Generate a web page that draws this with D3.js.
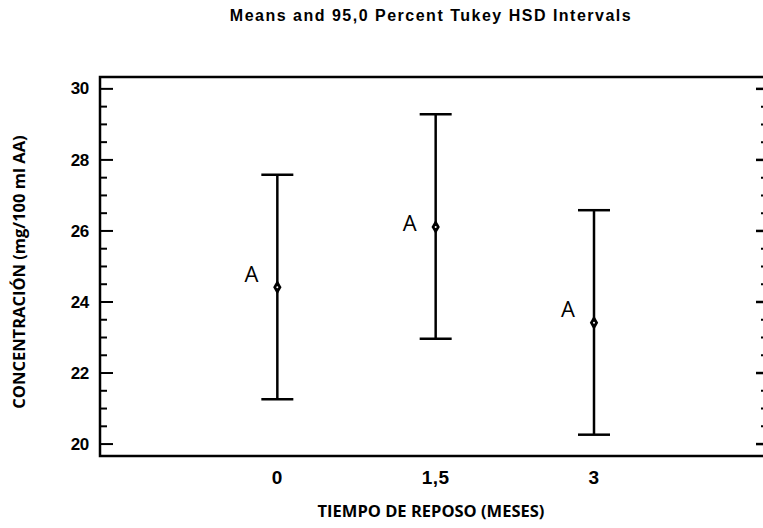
<!DOCTYPE html>
<html>
<head>
<meta charset="utf-8">
<script src="https://cdn.jsdelivr.net/npm/d3@7"></script>
<style>
  body { margin: 0; background: #fff; }
  svg { display: block; }
</style>
</head>
<body>
<svg width="763" height="528"></svg>
<script>
// data
var groups = ['0', '1,5', '3'];
var groupX = [0, 1.5, 3];
var means = [24.4, 26.1, 23.4];
var lower = [21.25, 22.95, 20.25];
var upper = [27.57, 29.27, 26.57];
var letters = ['A', 'A', 'A'];
var yTicks = [20, 22, 24, 26, 28, 30];

// vertical nudge of each letter relative to its mean (px)
var letterDy = [-5, 4, -6];

var svg = d3.select('svg');

var plotLeft = 100, plotRight = 765, plotTop = 77, plotBottom = 456;

var scaleX = d3.scaleLinear().domain([-1.68, 4.62]).range([plotLeft, plotRight]);
var scaleY = d3.scaleLinear().domain([19.65, 30.32]).range([plotBottom, plotTop]);

// frame
svg.append('rect')
    .attr('x', plotLeft)
    .attr('y', plotTop)
    .attr('width', plotRight - plotLeft)
    .attr('height', plotBottom - plotTop)
    .attr('fill', 'none')
    .attr('stroke', '#000')
    .attr('stroke-width', 2.5);

var minor = d3.range(20, 30.01, 0.5).filter(function(v){ return yTicks.indexOf(v) < 0; });

function tickAxis(axis, x, values, size, width) {
    var g = svg.append('g')
        .attr('transform', 'translate(' + x + ',0)')
        .call(axis(scaleY).tickValues(values).tickSize(size).tickFormat(''));
    g.select('.domain').remove();
    g.selectAll('line').attr('stroke-width', width);
}

// left axis, ticks inside
tickAxis(d3.axisRight, plotLeft, minor, 7, 2);
tickAxis(d3.axisRight, plotLeft, yTicks, 13, 2);

// right axis, ticks inside
tickAxis(d3.axisLeft, plotRight, minor, 4, 2);
tickAxis(d3.axisLeft, plotRight, yTicks, 9, 2.5);

var boldFont = "'Liberation Sans', Arial, sans-serif";
var labelFont = "'Open Sans', 'Liberation Sans', sans-serif";

// y tick labels
svg.append('g')
    .selectAll('text')
    .data(yTicks)
    .enter()
    .append('text')
    .attr('x', 89)
    .attr('y', function(d){ return scaleY(d); })
    .attr('dy', '0.36em')
    .attr('text-anchor', 'end')
    .style('font-family', boldFont)
    .style('font-weight', 'bold')
    .style('font-size', '17px')
    .style('letter-spacing', '-0.3px')
    .text(function(d){ return d; });

// x tick labels
svg.append('g')
    .selectAll('text')
    .data(groups)
    .enter()
    .append('text')
    .attr('x', function(d, i){ return scaleX(groupX[i]); })
    .attr('y', 484)
    .attr('text-anchor', 'middle')
    .style('font-family', boldFont)
    .style('font-weight', 'bold')
    .style('font-size', '19px')
    .style('letter-spacing', '0.5px')
    .text(function(d){ return d; });

// intervals
var bars = svg.append('g');
groups.forEach(function(g, i){
    var cx = scaleX(groupX[i]);
    bars.append('line')
        .attr('x1', cx).attr('x2', cx)
        .attr('y1', scaleY(upper[i])).attr('y2', scaleY(lower[i]))
        .attr('stroke', '#000').attr('stroke-width', 2.5);
    [upper[i], lower[i]].forEach(function(v){
        bars.append('line')
            .attr('x1', cx - 16).attr('x2', cx + 16)
            .attr('y1', scaleY(v)).attr('y2', scaleY(v))
            .attr('stroke', '#000').attr('stroke-width', 2.5);
    });
    bars.append('path')
        .attr('d', d3.symbol().type(d3.symbolDiamond).size(60))
        .attr('transform', 'translate(' + cx + ',' + scaleY(means[i]) + ')')
        .attr('fill', '#000');
    bars.append('circle')
        .attr('cx', cx)
        .attr('cy', scaleY(means[i]))
        .attr('r', 1)
        .attr('fill', '#fff');
    bars.append('text')
        .attr('x', cx - 19)
        .attr('y', scaleY(means[i]) + letterDy[i])
        .attr('text-anchor', 'end')
        .style('font-family', labelFont)
        .style('font-size', '22px')
        .text(letters[i]);
});

// titles
svg.append('text')
    .attr('x', 431)
    .attr('y', 21)
    .attr('text-anchor', 'middle')
    .style('font-family', boldFont)
    .style('font-weight', 'bold')
    .style('font-size', '16px')
    .style('letter-spacing', '1.5px')
    .text('Means and 95,0 Percent Tukey HSD Intervals');

svg.append('text')
    .attr('x', 431)
    .attr('y', 517)
    .attr('text-anchor', 'middle')
    .style('font-family', labelFont)
    .style('font-weight', 'bold')
    .style('font-size', '16.5px')
    .text('TIEMPO DE REPOSO (MESES)');

svg.append('text')
    .attr('x', -272)
    .attr('y', 25)
    .attr('text-anchor', 'middle')
    .attr('transform', 'rotate(270)')
    .style('font-family', labelFont)
    .style('font-weight', 'bold')
    .style('font-size', '16.5px')
    .text('CONCENTRACIÓN (mg/100 ml AA)');
</script>
</body>
</html>
